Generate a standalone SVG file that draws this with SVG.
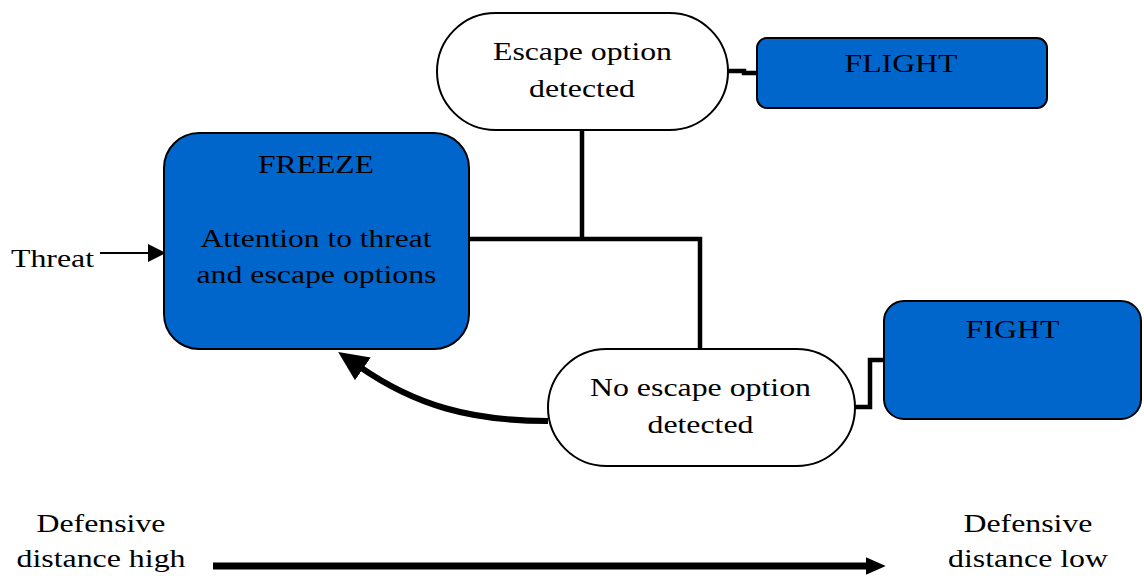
<svg xmlns="http://www.w3.org/2000/svg" width="1144" height="576" viewBox="0 0 1144 576" font-family="Liberation Serif, 'Times New Roman', serif">
  <style>
    text { font-size: 25px; fill: #000; text-anchor: middle; }
    .box { fill: #0066cc; stroke: #000; stroke-width: 2; }
    .oval { fill: #fff; stroke: #000; stroke-width: 2; }
    .conn { fill: none; stroke: #000; stroke-width: 4.5; stroke-linejoin: miter; }
  </style>
  <defs>
    <marker id="headBig" markerUnits="userSpaceOnUse" markerWidth="30" markerHeight="30" viewBox="0 0 26 24" refX="3" refY="12" orient="auto">
      <path d="M0,0 L26,12 L0,24 z" fill="#000"/>
    </marker>
    <marker id="headMid" markerUnits="userSpaceOnUse" markerWidth="20" markerHeight="20" viewBox="0 0 18 16" refX="2" refY="8" orient="auto">
      <path d="M0,0 L18,8 L0,16 z" fill="#000"/>
    </marker>
    <marker id="headSmall" markerUnits="userSpaceOnUse" markerWidth="18" markerHeight="18" viewBox="0 0 16 16" refX="1" refY="8" orient="auto">
      <path d="M0,0 L16,8 L0,16 z" fill="#000"/>
    </marker>
  </defs>

  <g id="connectors">
    <path class="conn" d="M582,130 V239"/>
    <path class="conn" d="M469,239 H700 V349"/>
    <path class="conn" d="M728,71 H744 V73 H757"/>
    <path class="conn" d="M855,407 H870 V360 H884"/>
    <path fill="none" stroke="#000" stroke-width="6" d="M548,421 C 470,421 415,405 360,367" marker-end="url(#headBig)"/>
    <path fill="none" stroke="#000" stroke-width="2" d="M100,253 H149" marker-end="url(#headSmall)"/>
    <path fill="none" stroke="#000" stroke-width="7" d="M213,566 H868" marker-end="url(#headMid)"/>
  </g>

  <g id="threat">
    <text x="52.5" y="267" textLength="83" lengthAdjust="spacingAndGlyphs">Threat</text>
  </g>

  <g id="freeze">
    <rect class="box" x="164" y="133" width="305" height="216" rx="35" ry="35"/>
    <text x="316" y="173" textLength="116" lengthAdjust="spacingAndGlyphs">FREEZE</text>
    <text x="316" y="247" textLength="231" lengthAdjust="spacingAndGlyphs">Attention to threat</text>
    <text x="316.5" y="283" textLength="240" lengthAdjust="spacingAndGlyphs">and escape options</text>
  </g>

  <g id="escape">
    <rect class="oval" x="437" y="13" width="291" height="117" rx="58.5" ry="58.5"/>
    <text x="582.5" y="60" textLength="179" lengthAdjust="spacingAndGlyphs">Escape option</text>
    <text x="582" y="97" textLength="106" lengthAdjust="spacingAndGlyphs">detected</text>
  </g>

  <g id="flight">
    <rect class="box" x="757" y="38" width="290" height="70" rx="10" ry="10"/>
    <text x="901" y="72" textLength="113" lengthAdjust="spacingAndGlyphs">FLIGHT</text>
  </g>

  <g id="noescape">
    <rect class="oval" x="548" y="349" width="307" height="117" rx="58.5" ry="58.5"/>
    <text x="700.5" y="396" textLength="221" lengthAdjust="spacingAndGlyphs">No escape option</text>
    <text x="700.5" y="433" textLength="106" lengthAdjust="spacingAndGlyphs">detected</text>
  </g>

  <g id="fight">
    <rect class="box" x="884" y="301" width="257" height="118" rx="20" ry="20"/>
    <text x="1012.5" y="338" textLength="94" lengthAdjust="spacingAndGlyphs">FIGHT</text>
  </g>

  <g id="scale-left">
    <text x="101" y="532" textLength="129" lengthAdjust="spacingAndGlyphs">Defensive</text>
    <text x="101" y="567" textLength="169" lengthAdjust="spacingAndGlyphs">distance high</text>
  </g>

  <g id="scale-right">
    <text x="1028" y="532" textLength="129" lengthAdjust="spacingAndGlyphs">Defensive</text>
    <text x="1028" y="567" textLength="160" lengthAdjust="spacingAndGlyphs">distance low</text>
  </g>
</svg>
